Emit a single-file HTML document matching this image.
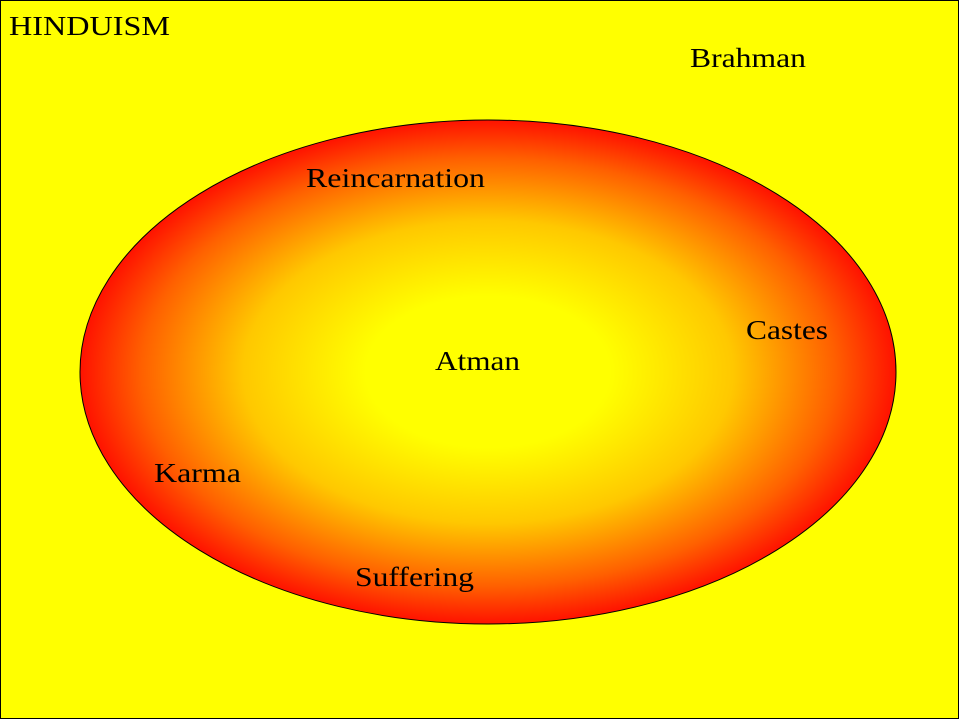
<!DOCTYPE html>
<html>
<head>
<meta charset="utf-8">
<style>
html,body{margin:0;padding:0;background:#ffff00;}
svg{display:block;}
text{font-family:"Liberation Serif","DejaVu Serif",serif;font-size:27px;fill:#000;}
</style>
</head>
<body>
<svg width="959" height="719" viewBox="0 0 959 719">
  <defs>
    <radialGradient id="g" cx="50%" cy="50%" r="50%">
      <stop offset="0" stop-color="#ffff00"/>
      <stop offset="0.3" stop-color="#ffff00"/>
      <stop offset="0.6" stop-color="#ffc800"/>
      <stop offset="0.85" stop-color="#ff6000"/>
      <stop offset="1" stop-color="#ff1200"/>
    </radialGradient>
  </defs>
  <rect x="0.5" y="0.5" width="958" height="718" fill="#ffff00" stroke="#000" stroke-width="1"/>
  <ellipse cx="488" cy="372" rx="408" ry="252" fill="url(#g)" stroke="#000" stroke-width="1"/>
  <text x="9" y="35" textLength="161" lengthAdjust="spacingAndGlyphs">HINDUISM</text>
  <text x="690" y="67" textLength="116" lengthAdjust="spacingAndGlyphs">Brahman</text>
  <text x="306" y="187" textLength="179" lengthAdjust="spacingAndGlyphs">Reincarnation</text>
  <text x="435" y="370" textLength="85" lengthAdjust="spacingAndGlyphs">Atman</text>
  <text x="746" y="339" textLength="82" lengthAdjust="spacingAndGlyphs">Castes</text>
  <text x="154" y="482" textLength="87" lengthAdjust="spacingAndGlyphs">Karma</text>
  <text x="355" y="586" textLength="119" lengthAdjust="spacingAndGlyphs">Suffering</text>
</svg>
</body>
</html>
